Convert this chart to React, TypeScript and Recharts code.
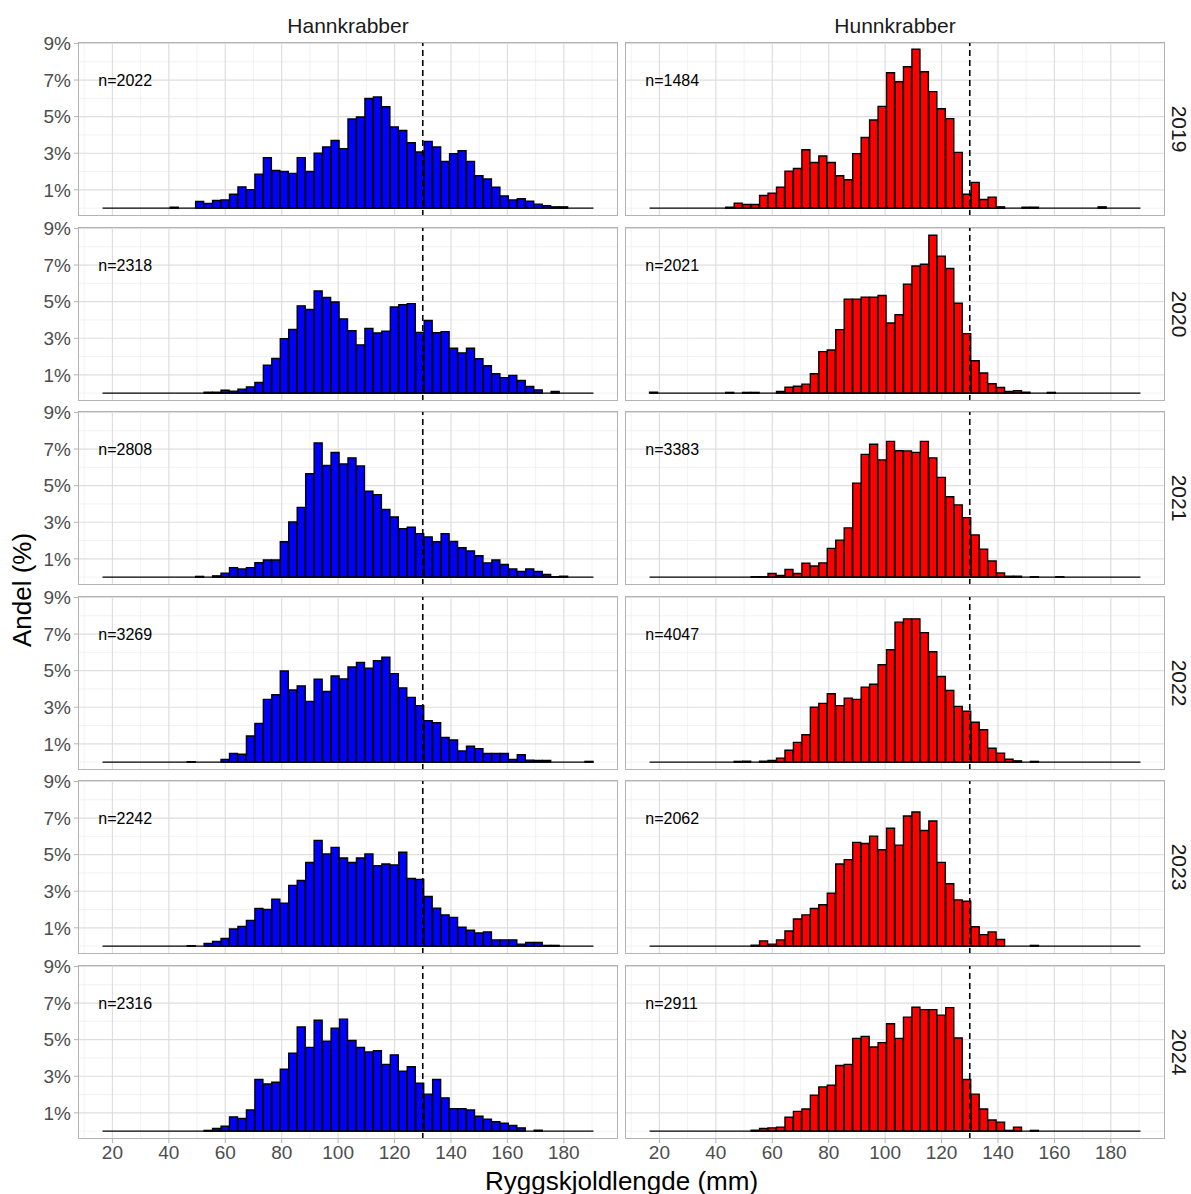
import React from 'react';
import { ComposedChart, Bar, XAxis, YAxis, CartesianGrid, ReferenceLine, ReferenceDot } from 'recharts';

// Bin centres (mm), bin width 3 mm
const binCenters = [
  18, 21, 24, 27, 30, 33, 36, 39, 42, 45,
  48, 51, 54, 57, 60, 63, 66, 69, 72, 75,
  78, 81, 84, 87, 90, 93, 96, 99, 102, 105,
  108, 111, 114, 117, 120, 123, 126, 129, 132, 135,
  138, 141, 144, 147, 150, 153, 156, 159, 162, 165,
  168, 171, 174, 177, 180, 183, 186, 189,
];
const binWidth = 3;

const years = ['2019', '2020', '2021', '2022', '2023', '2024'];
const sexLabels = ['Hannkrabber', 'Hunnkrabber'];
const hannN = [2022, 2318, 2808, 3269, 2242, 2316];
const hunnN = [1484, 2021, 3383, 4047, 2062, 2911];

const hann2019 = [
  0, 0, 0, 0, 0, 0, 0, 0, 0.05, 0,
  0, 0.36, 0.25, 0.42, 0.45, 0.76, 1.16, 1.01, 1.86, 2.76,
  2.06, 2.0, 1.9, 2.76, 2.0, 3.0, 3.34, 3.7, 3.25, 4.87,
  4.98, 5.99, 6.08, 5.54, 4.44, 4.24, 3.57, 3.07, 3.65, 3.34,
  2.55, 2.98, 3.14, 2.55, 1.77, 1.59, 1.14, 0.67, 0.45, 0.51,
  0.38, 0.22, 0.13, 0.07, 0.07, 0, 0, 0,
];
const hunn2019 = [
  0, 0, 0, 0, 0, 0, 0, 0, 0, 0.05,
  0.27, 0.2, 0.2, 0.69, 0.81, 1.14, 2.02, 2.17, 3.19, 2.49,
  2.85, 2.49, 1.77, 1.55, 2.98, 3.86, 4.82, 5.56, 7.4, 6.91,
  7.73, 8.68, 7.45, 6.37, 5.43, 4.89, 3.05, 0.76, 1.41, 0.47,
  0.6, 0.07, 0, 0, 0.05, 0.05, 0, 0, 0, 0,
  0, 0, 0, 0.07, 0, 0, 0, 0,
];
const hann2020 = [
  0, 0, 0, 0, 0, 0, 0, 0, 0, 0,
  0, 0, 0.05, 0.05, 0.16, 0.11, 0.22, 0.34, 0.58, 1.53,
  1.9, 2.98, 3.48, 4.77, 4.57, 5.58, 5.23, 4.98, 4.06, 3.41,
  2.64, 3.54, 3.29, 3.38, 4.71, 4.84, 4.89, 3.32, 3.97, 3.3,
  3.36, 2.45, 2.2, 2.45, 1.88, 1.5, 1.06, 0.85, 0.97, 0.69,
  0.36, 0.18, 0, 0.09, 0, 0, 0, 0,
];
const hunn2020 = [
  0.05, 0, 0, 0, 0, 0, 0, 0, 0, 0.04,
  0, 0.04, 0.04, 0, 0, 0.09, 0.32, 0.38, 0.49, 1.06,
  2.27, 2.36, 3.47, 5.14, 5.14, 5.25, 5.25, 5.34, 3.83, 4.28,
  5.96, 6.95, 7.04, 8.63, 7.49, 6.81, 4.91, 3.25, 1.77, 1.1,
  0.51, 0.31, 0.09, 0.13, 0.05, 0, 0, 0.04, 0, 0,
  0, 0, 0, 0, 0, 0, 0, 0,
];
const hann2021 = [
  0, 0, 0, 0, 0, 0, 0, 0, 0, 0,
  0, 0.04, 0, 0.07, 0.22, 0.52, 0.45, 0.52, 0.79, 0.94,
  0.94, 1.93, 3.01, 3.81, 5.65, 7.33, 6.1, 6.81, 6.19, 6.52,
  6.08, 4.69, 4.51, 3.7, 3.29, 2.65, 2.73, 2.38, 2.2, 1.93,
  2.38, 1.95, 1.61, 1.43, 1.17, 0.78, 0.94, 0.69, 0.45, 0.31,
  0.45, 0.31, 0.14, 0.02, 0.05, 0, 0, 0,
];
const hunn2021 = [
  0, 0, 0, 0, 0, 0, 0, 0, 0, 0,
  0, 0, 0.02, 0.02, 0.2, 0.09, 0.42, 0.2, 0.76, 0.61,
  0.78, 1.57, 2.02, 2.69, 5.14, 6.71, 7.26, 6.41, 7.42, 6.91,
  6.9, 6.82, 7.42, 6.52, 5.45, 4.39, 3.95, 3.25, 2.31, 1.53,
  0.88, 0.23, 0.05, 0.05, 0, 0.02, 0, 0, 0.02, 0,
  0, 0, 0, 0, 0, 0, 0, 0,
];
const hann2022 = [
  0, 0, 0, 0, 0, 0, 0, 0, 0, 0,
  0.02, 0, 0, 0, 0.14, 0.47, 0.43, 1.43, 2.11, 3.43,
  3.68, 4.98, 3.94, 4.17, 3.32, 4.53, 3.86, 4.71, 4.55, 5.2,
  5.45, 5.14, 5.54, 5.74, 4.84, 4.06, 3.54, 3.09, 2.27, 2.15,
  1.35, 1.21, 0.61, 0.87, 0.74, 0.47, 0.47, 0.47, 0.14, 0.4,
  0.11, 0.09, 0.09, 0, 0, 0, 0, 0.04,
];
const hunn2022 = [
  0, 0, 0, 0, 0, 0, 0, 0, 0, 0,
  0.04, 0.05, 0, 0.05, 0.09, 0.22, 0.65, 1.08, 1.5, 3.0,
  3.21, 3.74, 3.09, 3.5, 3.43, 4.1, 4.26, 5.32, 6.14, 7.65,
  7.83, 7.83, 7.08, 6.03, 4.68, 3.92, 3.05, 2.78, 2.18, 1.77,
  0.76, 0.49, 0.16, 0.07, 0, 0.04, 0, 0, 0, 0,
  0, 0, 0, 0, 0, 0, 0, 0,
];
const hann2023 = [
  0, 0, 0, 0, 0, 0, 0, 0, 0, 0,
  0.02, 0, 0.14, 0.25, 0.42, 0.94, 1.08, 1.41, 2.06, 2.0,
  2.56, 2.35, 3.32, 3.59, 4.57, 5.78, 5.04, 5.4, 4.82, 4.57,
  4.82, 5.04, 4.4, 4.49, 4.44, 5.13, 3.7, 3.65, 2.71, 2.08,
  1.71, 1.57, 1.03, 0.87, 0.72, 0.78, 0.34, 0.34, 0.34, 0.11,
  0.2, 0.2, 0.04, 0.04, 0, 0, 0, 0,
];
const hunn2023 = [
  0, 0, 0, 0, 0, 0, 0, 0, 0, 0,
  0, 0, 0.05, 0.29, 0.11, 0.34, 0.83, 1.48, 1.71, 2.06,
  2.26, 2.89, 4.49, 4.73, 5.67, 5.61, 6.01, 5.27, 6.44, 5.52,
  7.11, 7.33, 6.32, 6.84, 4.58, 3.41, 2.53, 2.45, 1.06, 0.63,
  0.78, 0.36, 0, 0, 0, 0.04, 0, 0, 0, 0,
  0, 0, 0, 0, 0, 0, 0, 0,
];
const hann2024 = [
  0, 0, 0, 0, 0, 0, 0, 0, 0, 0,
  0, 0, 0.04, 0.14, 0.27, 0.78, 0.69, 1.16, 2.82, 2.58,
  2.67, 3.38, 4.26, 5.69, 4.58, 6.06, 4.91, 5.63, 6.12, 4.95,
  4.57, 4.33, 4.39, 3.65, 4.17, 3.27, 3.52, 2.62, 2.02, 2.82,
  1.82, 1.23, 1.23, 1.16, 0.81, 0.65, 0.51, 0.43, 0.31, 0.18,
  0, 0.05, 0, 0, 0, 0, 0, 0,
];
const hunn2024 = [
  0, 0, 0, 0, 0, 0, 0, 0, 0, 0,
  0, 0, 0.05, 0.14, 0.18, 0.22, 0.76, 1.08, 1.21, 1.97,
  2.42, 2.51, 3.59, 3.65, 5.07, 5.18, 4.6, 4.84, 5.87, 5.07,
  6.23, 6.77, 6.64, 6.64, 6.34, 6.75, 5.09, 2.82, 2.02, 1.21,
  0.61, 0.49, 0.04, 0.22, 0, 0.04, 0, 0, 0, 0,
  0, 0, 0, 0, 0, 0, 0, 0,
];

const hannSeries = [hann2019, hann2020, hann2021, hann2022, hann2023, hann2024];
const hunnSeries = [hunn2019, hunn2020, hunn2021, hunn2022, hunn2023, hunn2024];

const xTicks = [20, 40, 60, 80, 100, 120, 140, 160, 180];
const xMinor = [10, 30, 50, 70, 90, 110, 130, 150, 170, 190];
const yTicks = [1, 3, 5, 7, 9];
const yMinor = [0, 2, 4, 6, 8];
const cutoff = 130;
const labelPos = { x: 15, y: 7 };

// layout
const X_DOMAIN: [number, number] = [7.8, 199.2];
const Y_DOMAIN: [number, number] = [-0.43, 9.08];
const PANEL_W = 540;
const PANEL_H = 174;
const COL_X = [78, 625];
const ROW_Y0 = 42;
const ROW_STEP = 184.5;
const YW = 70;
const XH = 36;
const MT = 12;
const FONT = '"Liberation Sans", Arial, Helvetica, sans-serif';
const COLORS = ['#0000FF', '#FF0000'];

function NLabel(props: any) {
  const vb = props.viewBox || {};
  return (
    <text x={vb.x} y={vb.y} dy="0.35em" fontSize={16} fill="#000" fontFamily={FONT} textAnchor="start">
      {props.value}
    </text>
  );
}

function Panel({ values, n, color, showX, showY, left, top }: any) {
  const data = binCenters.map((x, i) => ({ x, v: values[i] }));
  const w = PANEL_W + (showY ? YW : 0);
  const h = PANEL_H + MT + (showX ? XH : 0);
  const first = binCenters[0] - binWidth / 2;
  const last = binCenters[binCenters.length - 1] + binWidth / 2;
  return (
    <div style={{ position: 'absolute', left: left - (showY ? YW : 0), top: top - MT, width: w, height: h }}>
      <ComposedChart
        width={w}
        height={h}
        data={data}
        margin={{ top: MT, right: 0, bottom: 0, left: 0 }}
        barCategoryGap={0}
        barGap={0}
      >
        <CartesianGrid horizontalValues={yMinor} verticalValues={xMinor} stroke="#EDEDED" strokeWidth={0.7} />
        <CartesianGrid horizontalValues={yTicks} verticalValues={xTicks} stroke="#DEDEDE" strokeWidth={1.2} />
        <XAxis
          dataKey="x"
          type="number"
          domain={X_DOMAIN}
          ticks={xTicks}
          interval={0}
          allowDataOverflow
          hide={!showX}
          height={XH}
          tickSize={4}
          tickMargin={3}
          axisLine={false}
          tickLine={{ stroke: '#B3B3B3' }}
          tick={{ fill: '#4D4D4D', fontSize: 19, fontFamily: FONT }}
        />
        <YAxis
          type="number"
          domain={Y_DOMAIN}
          ticks={yTicks}
          interval={0}
          allowDataOverflow
          hide={!showY}
          width={YW}
          tickSize={4}
          tickMargin={3}
          axisLine={false}
          tickLine={{ stroke: '#B3B3B3' }}
          tickFormatter={(v: number) => `${v}%`}
          tick={{ fill: '#4D4D4D', fontSize: 19, fontFamily: FONT }}
        />
        <Bar dataKey="v" fill={color} stroke="#000" strokeWidth={1.4} isAnimationActive={false} />
        <ReferenceLine
          segment={[{ x: first, y: 0 }, { x: last, y: 0 }]}
          stroke="#000"
          strokeWidth={1.4}
        />
        <ReferenceLine x={cutoff} stroke="#000" strokeDasharray="6 4" strokeWidth={1.6} />
        <ReferenceDot
          x={labelPos.x}
          y={labelPos.y}
          r={0}
          fill="none"
          stroke="none"
          ifOverflow="visible"
          label={<NLabel value={`n=${n}`} />}
        />
      </ComposedChart>
      <div
        style={{
          position: 'absolute',
          left: showY ? YW : 0,
          top: MT,
          width: PANEL_W,
          height: PANEL_H,
          border: '1px solid #B3B3B3',
          boxSizing: 'border-box',
          pointerEvents: 'none',
        }}
      />
    </div>
  );
}

export default function App() {
  const totalTop = ROW_Y0;
  const totalBottom = ROW_Y0 + ROW_STEP * (years.length - 1) + PANEL_H;
  const centerY = (totalTop + totalBottom) / 2;
  const rightEdge = COL_X[1] + PANEL_W;
  const centerX = (COL_X[0] + rightEdge) / 2;
  return (
    <div style={{ position: 'relative', width: 1191, height: 1194, background: '#fff', fontFamily: FONT, overflow: 'hidden' }}>
      <style>{`body{margin:0;}`}</style>
      {sexLabels.map((s, c) => (
        <div
          key={s}
          style={{
            position: 'absolute',
            left: COL_X[c],
            width: PANEL_W,
            top: 12,
            height: 28,
            lineHeight: '28px',
            textAlign: 'center',
            fontSize: 21,
            color: '#1A1A1A',
          }}
        >
          {s}
        </div>
      ))}
      {years.map((yr, r) => (
        <div
          key={yr}
          style={{
            position: 'absolute',
            left: rightEdge,
            top: ROW_Y0 + r * ROW_STEP,
            width: 28,
            height: PANEL_H,
            display: 'flex',
            alignItems: 'center',
            justifyContent: 'center',
          }}
        >
          <div style={{ transform: 'rotate(90deg)', fontSize: 21, color: '#1A1A1A', whiteSpace: 'nowrap' }}>{yr}</div>
        </div>
      ))}
      {years.map((yr, r) =>
        [hannSeries, hunnSeries].map((series, c) => (
          <Panel
            key={`${yr}-${c}`}
            values={series[r]}
            n={(c === 0 ? hannN : hunnN)[r]}
            color={COLORS[c]}
            showX={r === years.length - 1}
            showY={c === 0}
            left={COL_X[c]}
            top={ROW_Y0 + r * ROW_STEP}
          />
        ))
      )}
      <div
        style={{
          position: 'absolute',
          left: 22,
          top: centerY,
          transform: 'translate(-50%, -50%) rotate(-90deg)',
          fontSize: 26,
          color: '#000',
          whiteSpace: 'nowrap',
        }}
      >
        Andel (%)
      </div>
      <div
        style={{
          position: 'absolute',
          left: centerX,
          top: 1181,
          transform: 'translate(-50%, -50%)',
          fontSize: 26,
          color: '#000',
          whiteSpace: 'nowrap',
        }}
      >
        Ryggskjoldlengde (mm)
      </div>
    </div>
  );
}
